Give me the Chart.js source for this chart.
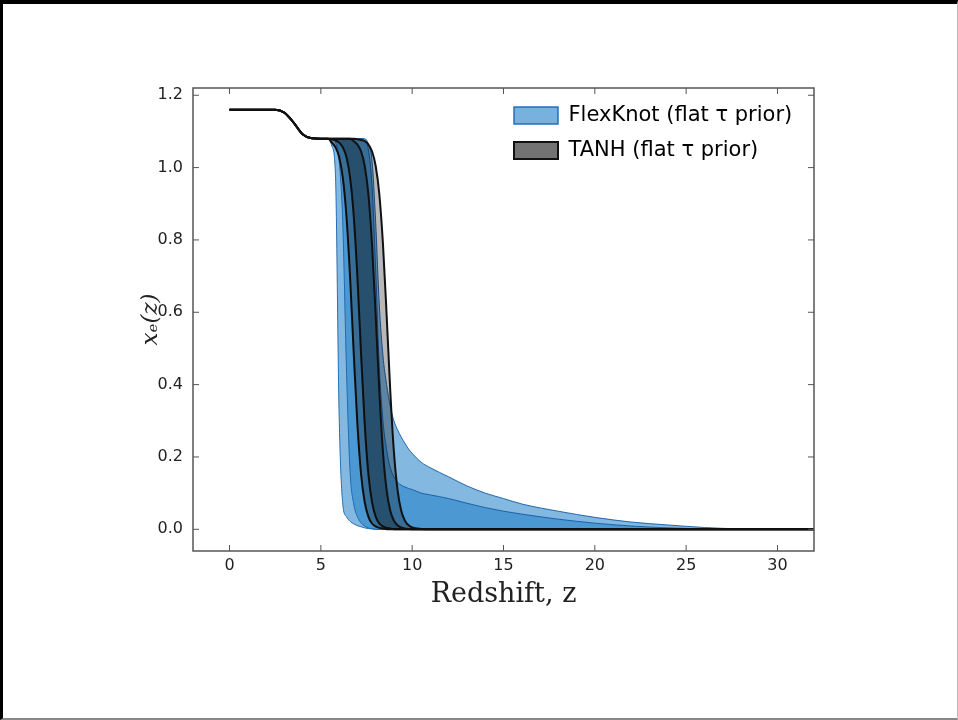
<!DOCTYPE html>
<html>
<head>
<meta charset="utf-8">
<script src="https://cdn.jsdelivr.net/npm/chart.js@4.4.0/dist/chart.umd.min.js"></script>
<style>
  html, body { margin: 0; padding: 0; background: #fff; }
  #wrap { position: relative; width: 958px; height: 720px; }
  #frame { position: absolute; left: 0; top: 0; width: 958px; height: 720px; box-sizing: border-box;
    border-top: 4px solid #000; border-left: 3px solid #000; border-right: 1px solid #bbb; border-bottom: 2px solid #888;
    pointer-events: none; }
</style>
</head>
<body>
<div id="wrap">
  <canvas id="myChart" width="958" height="720"></canvas>
  <div id="frame"></div>
</div>
<script>
// redshift grid, denser through the reionisation drop
const redshift = [0, 2.5, 3, 3.5, 4, 4.5, 5, 5.4,
  5.6, 5.8, 6, 6.2, 6.4, 6.6, 6.8, 7, 7.2, 7.4, 7.6, 7.8, 8, 8.2, 8.4, 8.6, 8.8,
  9, 9.2, 9.4, 9.6, 9.8, 10, 10.5, 11, 12, 13, 14, 15, 16, 18, 20, 22, 24, 26, 28, 30, 32];

// helium step, shared by every curve up to z = 5.4
const plateau = [1.16, 1.16, 1.152, 1.125, 1.092, 1.081, 1.08, 1.08];

// FlexKnot bands (outer / inner)
const flexLow95 = [...plateau, 1.06, 0.98, 0.32, 0.07, 0.035, 0.022, 0.015, 0.01, 0.007, 0.004, 0.002, 0.001, 0,
  0, 0, 0, 0, 0, 0, 0, 0, 0, 0, 0, 0, 0, 0, 0, 0, 0, 0, 0, 0, 0, 0, 0, 0, 0];
const flexLow68 = [...plateau, 1.08, 1.07, 1.02, 0.85, 0.45, 0.16, 0.07, 0.035, 0.018, 0.009, 0.004, 0.002, 0,
  0, 0, 0, 0, 0, 0, 0, 0, 0, 0, 0, 0, 0, 0, 0, 0, 0, 0, 0, 0, 0, 0, 0, 0, 0];
const flexHigh68 = [...plateau, 1.08, 1.08, 1.08, 1.08, 1.08, 1.08, 1.08, 1.08, 1.08,
  1.075, 1.05, 0.95, 0.72, 0.45, 0.3, 0.22, 0.17, 0.145, 0.13, 0.122, 0.117, 0.113, 0.11, 0.1, 0.095,
  0.085, 0.072, 0.06, 0.05, 0.042, 0.028, 0.017, 0.009, 0.004, 0.001, 0, 0, 0];
const flexHigh95 = [...plateau, 1.08, 1.08, 1.08, 1.08, 1.08, 1.08, 1.08, 1.08, 1.08, 1.08,
  1.065, 1.02, 0.85, 0.62, 0.48, 0.4, 0.34, 0.3, 0.275, 0.255, 0.238, 0.222, 0.21, 0.185, 0.17,
  0.145, 0.12, 0.1, 0.085, 0.07, 0.05, 0.033, 0.02, 0.012, 0.005, 0.001, 0, 0];

// TANH bands (outer / inner)
const tanhLow95 = [...plateau, 1.069, 1.056, 1.029, 0.972, 0.866, 0.697, 0.486, 0.291, 0.153, 0.075, 0.035, 0.016, 0.008, 0.004, 0.002,
  0, 0, 0, 0, 0, 0, 0, 0, 0, 0, 0, 0, 0, 0, 0, 0, 0, 0, 0, 0, 0, 0, 0];
const tanhLow68 = [...plateau, 1.078, 1.075, 1.069, 1.056, 1.029, 0.972, 0.866, 0.697, 0.486, 0.291, 0.153, 0.075, 0.035, 0.016, 0.008, 0.004, 0.002,
  0, 0, 0, 0, 0, 0, 0, 0, 0, 0, 0, 0, 0, 0, 0, 0, 0, 0, 0, 0, 0];
const tanhHigh68 = [...plateau, 1.08, 1.08, 1.08, 1.08, 1.08, 1.08,
  1.073, 1.064, 1.045, 1.005, 0.927, 0.789, 0.594, 0.383, 0.214, 0.108, 0.051, 0.024, 0.011, 0.005, 0.002, 0.001,
  0, 0, 0, 0, 0, 0, 0, 0, 0, 0, 0, 0, 0, 0, 0, 0];
const tanhHigh95 = [...plateau, 1.08, 1.08, 1.08, 1.08, 1.08, 1.08, 1.08, 1.078, 1.076,
  1.073, 1.064, 1.045, 1.005, 0.927, 0.789, 0.594, 0.383, 0.214, 0.108, 0.051, 0.024, 0.011, 0.005, 0.001,
  0, 0, 0, 0, 0, 0, 0, 0, 0, 0, 0, 0, 0, 0];

const xTicks = [0, 5, 10, 15, 20, 25, 30];
const yTicks = [0, 0.2, 0.4, 0.6, 0.8, 1.0, 1.2];

const blueFill = 'rgba(30, 125, 200, 0.55)';
const blueEdge = 'rgba(20, 90, 160, 0.9)';
const grayFill = 'rgba(0, 0, 0, 0.28)';
const grayEdge = '#111';

const pts = arr => redshift.map((z, i) => ({ x: z, y: arr[i] }));

function band(values, fill, bg, edge, width) {
    return {
        data: pts(values),
        fill: fill,
        backgroundColor: bg,
        borderColor: edge,
        borderWidth: width,
        pointRadius: 0,
        cubicInterpolationMode: 'monotone',
    };
}

// draws the box round the axes and the inward tick marks
const axesFrame = {
    id: 'axesFrame',
    afterDatasetsDraw(chart) {
        const { ctx, chartArea: a, scales: { x, y } } = chart;
        ctx.save();
        ctx.strokeStyle = '#555';
        ctx.lineWidth = 1.5;
        ctx.strokeRect(a.left, a.top, a.right - a.left, a.bottom - a.top);
        ctx.lineWidth = 1;
        ctx.beginPath();
        x.ticks.forEach(t => {
            const px = x.getPixelForValue(t.value);
            ctx.moveTo(px, a.bottom); ctx.lineTo(px, a.bottom - 6);
            ctx.moveTo(px, a.top); ctx.lineTo(px, a.top + 6);
        });
        y.ticks.forEach(t => {
            const py = y.getPixelForValue(t.value);
            ctx.moveTo(a.left, py); ctx.lineTo(a.left + 6, py);
            ctx.moveTo(a.right, py); ctx.lineTo(a.right - 6, py);
        });
        ctx.stroke();
        ctx.restore();
    }
};

// put the legend in the top right corner of the plot
const legendRight = {
    id: 'legendRight',
    afterLayout(chart) {
        const lg = chart.legend;
        const w = lg.right - lg.left;
        const h = lg.bottom - lg.top;
        lg.left = chart.chartArea.right - 314;
        lg.right = lg.left + w;
        lg.top = chart.chartArea.top + 3;
        lg.bottom = lg.top + h;
    }
};

const ctx = document.getElementById('myChart');
const myChart = new Chart(ctx, {
    type: 'line',
    data: {
        datasets: [
            band(tanhHigh68, '+1', grayFill, grayEdge, 2),
            band(tanhLow68, false, grayFill, grayEdge, 2),
            band(tanhHigh95, '+1', grayFill, grayEdge, 2),
            band(tanhLow95, false, grayFill, grayEdge, 2),
            band(flexHigh68, '+1', blueFill, blueEdge, 1),
            band(flexLow68, false, blueFill, blueEdge, 1),
            band(flexHigh95, '+1', blueFill, blueEdge, 1),
            band(flexLow95, false, blueFill, blueEdge, 1),
        ]
    },
    options: {
        responsive: false,
        animation: false,
        devicePixelRatio: 1,
        events: [],
        layout: { padding: { left: 130, right: 144, top: 88, bottom: 108 } },
        scales: {
            x: {
                type: 'linear',
                min: -2,
                max: 32,
                afterBuildTicks: s => { s.ticks = xTicks.map(v => ({ value: v })); },
                afterFit: s => { s.height = 61; },
                grid: { display: false, drawTicks: false },
                border: { display: false },
                ticks: { font: { family: 'DejaVu Sans', size: 16 }, color: '#222', padding: 5 },
                title: {
                    display: true, text: 'Redshift, z', color: '#222',
                    font: { family: 'DejaVu Serif', size: 27 }, padding: { top: 2, bottom: 1 }
                },
            },
            y: {
                type: 'linear',
                min: -0.06,
                max: 1.22,
                afterBuildTicks: s => { s.ticks = yTicks.map(v => ({ value: v })); },
                afterFit: s => { s.width = 63; },
                grid: { display: false, drawTicks: false },
                border: { display: false },
                ticks: {
                    font: { family: 'DejaVu Sans', size: 16 }, color: '#222', padding: 10,
                    callback: v => v.toFixed(1),
                },
                title: {
                    display: true, text: 'xₑ(z)', color: '#222',
                    font: { family: 'DejaVu Serif', size: 23, style: 'italic' }, padding: { top: 7, bottom: 4 }
                },
            },
        },
        plugins: {
            tooltip: { enabled: false },
            legend: {
                position: 'chartArea',
                align: 'start',
                labels: {
                    boxWidth: 44,
                    boxHeight: 17,
                    padding: 14,
                    color: '#222',
                    font: { family: 'DejaVu Sans', size: 21 },
                    generateLabels: () => [
                        { text: 'FlexKnot (flat τ prior)', fillStyle: 'rgba(30, 125, 200, 0.6)', strokeStyle: 'rgba(20, 100, 180, 0.9)', lineWidth: 1.5, hidden: false, datasetIndex: 6 },
                        { text: 'TANH (flat τ prior)', fillStyle: 'rgba(0, 0, 0, 0.55)', strokeStyle: '#111', lineWidth: 2, hidden: false, datasetIndex: 2 },
                    ],
                },
            },
        },
    },
    plugins: [axesFrame, legendRight],
});
</script>
</body>
</html>
